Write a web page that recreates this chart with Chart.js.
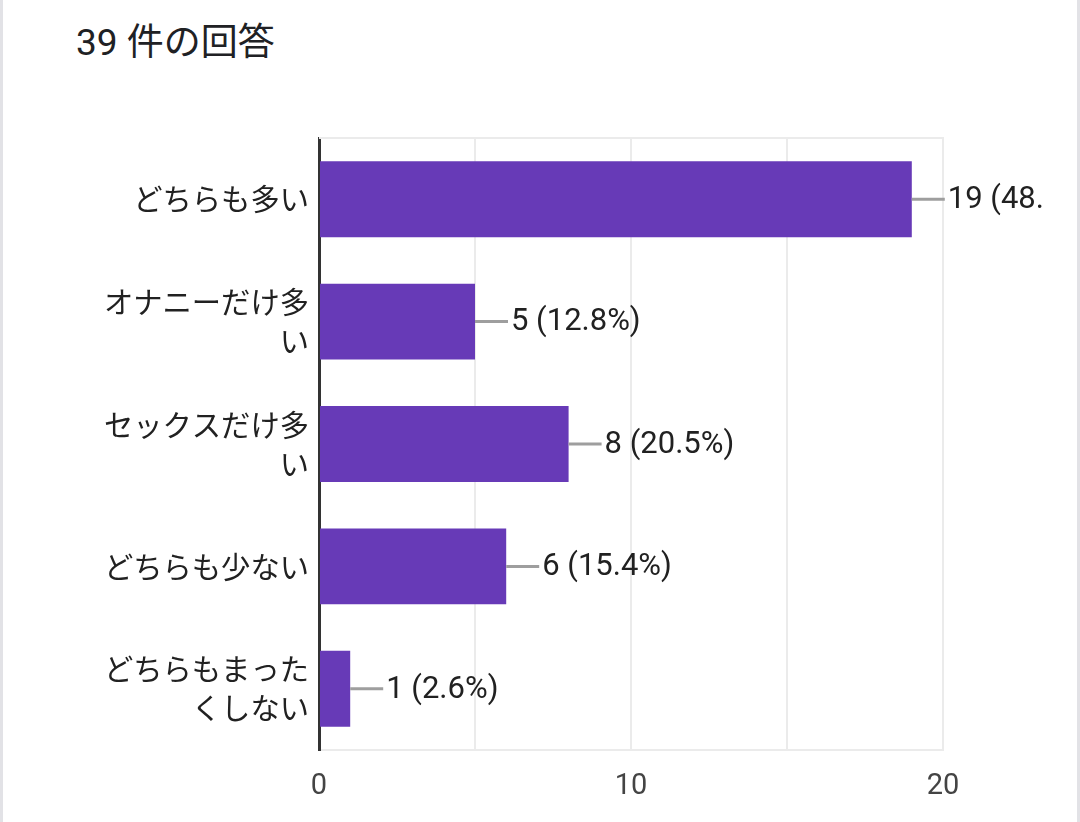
<!DOCTYPE html>
<html>
<head>
<meta charset="utf-8">
<script src="https://cdn.jsdelivr.net/npm/chart.js@4.4.1/dist/chart.umd.min.js"></script>
<style>
  html, body { margin: 0; padding: 0; background: #ffffff; }
  #wrap { position: relative; width: 1080px; height: 822px; overflow: hidden; background: #ffffff; }
  #lb { position: absolute; left: 0; top: 0; width: 3px; height: 822px; background: #e2e2e6; }
  #rb { position: absolute; right: 0; top: 0; width: 3px; height: 822px; background: #e2e2e6; }
  #title { position: absolute; left: 76px; top: 24px; font-family: Roboto, "Noto Sans CJK JP", sans-serif; font-size: 37px; line-height: 37px; color: #202124; white-space: nowrap; }
  #c { position: absolute; left: 0; top: 0; }
</style>
</head>
<body>
<div id="wrap">
  <div id="lb"></div>
  <div id="rb"></div>
  <div id="title">39 件の回答</div>
  <canvas id="c" width="1080" height="822"></canvas>
</div>
<script>
const categories = [
  ["どちらも多い"],
  ["オナニーだけ多", "い"],
  ["セックスだけ多", "い"],
  ["どちらも少ない"],
  ["どちらもまった", "くしない"]
];
const counts = [19, 5, 8, 6, 1];
const percentLabels = ["48.7%", "12.8%", "20.5%", "15.4%", "2.6%"];
const xTickLabels = {0: "0", 10: "10", 20: "20"};

const AREA = { left: 319, right: 943, top: 138, bottom: 750 };
const LABEL_LIMIT = 1047;

const framePlugin = {
  id: 'frame',
  beforeDatasetsDraw(chart) {
    const ctx = chart.ctx, a = chart.chartArea;
    ctx.save();
    ctx.strokeStyle = '#ebebeb';
    ctx.lineWidth = 2;
    ctx.beginPath();
    ctx.moveTo(a.left, a.top);
    ctx.lineTo(a.right + 1, a.top);
    ctx.stroke();
    ctx.restore();
  }
};

const valueLabelPlugin = {
  id: 'valueLabels',
  afterDatasetsDraw(chart) {
    const ctx = chart.ctx;
    const meta = chart.getDatasetMeta(0);
    ctx.save();
    meta.data.forEach((bar, i) => {
      const x = bar.x, y = bar.y;
      ctx.strokeStyle = '#9e9e9e';
      ctx.lineWidth = 3;
      ctx.beginPath();
      ctx.moveTo(x, y);
      ctx.lineTo(x + 33, y);
      ctx.stroke();
      ctx.fillStyle = '#212121';
      ctx.font = '31px Roboto, "Noto Sans CJK JP", sans-serif';
      ctx.textAlign = 'left';
      ctx.textBaseline = 'middle';
      let txt = counts[i] + ' (' + percentLabels[i] + ')';
      const tx = x + 36;
      while (txt.length > 0 && tx + ctx.measureText(txt).width > LABEL_LIMIT) {
        txt = txt.slice(0, -1);
      }
      ctx.fillText(txt, tx, y + 1);
    });
    ctx.restore();
  }
};

new Chart(document.getElementById('c'), {
  type: 'bar',
  data: {
    labels: categories,
    datasets: [{
      data: counts,
      backgroundColor: '#673ab7',
      borderWidth: 0,
      barPercentage: 0.62,
      categoryPercentage: 1.0
    }]
  },
  options: {
    indexAxis: 'y',
    responsive: false,
    animation: false,
    events: [],
    layout: { padding: { left: 0, top: AREA.top, right: 1080 - AREA.right, bottom: 0 } },
    plugins: { legend: { display: false }, tooltip: { enabled: false }, title: { display: false } },
    scales: {
      x: {
        type: 'linear',
        min: 0, max: 20,
        afterFit(scale) { scale.height = 822 - AREA.bottom; },
        border: { display: true, color: '#ebebeb', width: 2 },
        grid: { color: '#ebebeb', lineWidth: 2, drawTicks: false },
        ticks: {
          stepSize: 5,
          padding: 19,
          color: '#444444',
          font: { family: 'Roboto', size: 29 },
          callback(v) { return xTickLabels[v] !== undefined ? xTickLabels[v] : ''; }
        }
      },
      y: {
        afterFit(scale) { scale.width = AREA.left; },
        border: { display: true, color: '#333333', width: 3 },
        grid: { display: false, drawTicks: false },
        ticks: {
          padding: 10,
          color: '#212121',
          font: { family: '"Noto Sans CJK JP", Roboto, sans-serif', size: 29.3, lineHeight: 1.33 }
        }
      }
    }
  },
  plugins: [framePlugin, valueLabelPlugin]
});
</script>
</body>
</html>
